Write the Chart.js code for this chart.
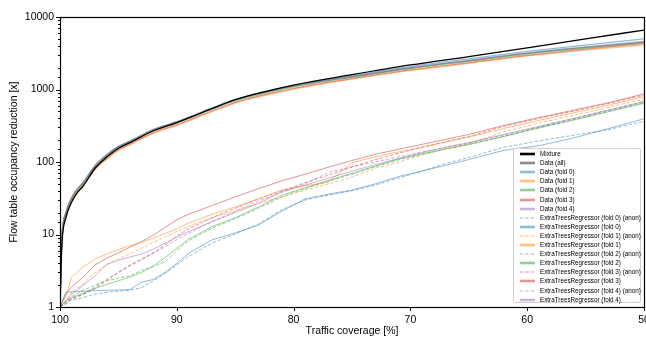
<!DOCTYPE html>
<html>
<head>
<meta charset="utf-8">
<script src="https://cdn.jsdelivr.net/npm/chart.js@4.4.1/dist/chart.umd.min.js"></script>
<style>
  html, body { margin: 0; padding: 0; background: #fff; overflow: hidden; }
  #wrap { position: relative; width: 646px; height: 337px; }
  #legend {
    position: absolute; box-sizing: border-box; background: rgba(255,255,255,0.85);
    border: 1px solid #d0d0d0; border-radius: 2px;
    font-family: 'Liberation Sans', Arial, sans-serif; font-size: 6.3px; color: #000;
  }
  #legend .row { position: absolute; left: 6px; height: 8px; line-height: 8px; white-space: nowrap; }
  #legend svg { position: absolute; left: 0; top: 2px; }
  #legend span { position: absolute; left: 20px; top: 0; }
</style>
</head>
<body>
<div id="wrap">
  <canvas id="chart"></canvas>
  <div id="legend"></div>
</div>
<script>
// coverage grids (x values, %)
const upperCoverage = [100, 99.9, 99.8, 99.5, 99, 98.5, 98, 97, 96, 95, 94, 92, 90, 87, 85, 80, 75, 70, 65, 60, 55, 50];
const lowerCoverage = [100, 99.5, 99, 98, 97, 96, 95, 94, 93, 92, 91, 90, 89, 87, 85, 83, 81, 79, 77, 75, 73, 71, 69, 67, 65, 62, 59, 56, 53, 50];

// upper bundle
const mixture   = [1, 4, 9, 17, 28, 38, 47, 82, 117, 155, 185, 270, 350, 545, 725, 1150, 1600, 2180, 2850, 3760, 5000, 6600];
const dataAll   = [1, 5, 11, 20, 32, 42, 52, 88, 124, 162, 192, 278, 355, 545, 715, 1110, 1500, 1980, 2500, 3150, 3800, 4500];
const dataFold0 = [1, 5.5, 11.5, 20, 32, 43, 53, 89, 126, 164, 195, 282, 360, 555, 730, 1140, 1560, 2070, 2650, 3350, 4100, 5000];
const dataFold1 = [1, 4.5, 10, 18, 29, 38, 47, 79, 110, 146, 173, 250, 320, 495, 650, 1010, 1390, 1830, 2300, 2900, 3500, 4100];
const dataFold2 = [1, 5, 10.5, 19, 31, 41, 51, 86, 121, 158, 187, 270, 346, 530, 695, 1080, 1470, 1940, 2450, 3080, 3720, 4400];
const dataFold3 = [1, 4.5, 10, 18, 29, 39, 48, 80, 112, 148, 176, 255, 327, 505, 665, 1030, 1410, 1860, 2350, 2960, 3600, 4300];
const dataFold4 = [1, 5, 11, 20, 32, 42, 52, 88, 125, 163, 193, 280, 357, 548, 720, 1120, 1520, 2000, 2530, 3200, 3880, 4600];

// ExtraTreesRegressor per fold (anon = dashed)
const etr0Anon = [1, 1.2, 1.25, 1.35, 1.5, 1.6, 1.65, 1.7, 1.85, 2.3, 2.9, 3.8, 5.0, 7.6, 10.2, 14, 22, 30, 35, 40, 48, 60, 75, 95, 115, 160, 195, 235, 280, 365];
const etr0     = [1, 1.6, 1.62, 1.65, 1.68, 1.7, 1.72, 1.74, 2.2, 2.4, 3.0, 4.0, 5.5, 8.4, 10.5, 13.5, 21, 31, 36, 41, 50, 63, 75, 90, 108, 145, 168, 215, 290, 395];
const etr1Anon = [1, 1.2, 1.6, 2.1, 3.0, 3.8, 4.6, 5.4, 6.5, 7.8, 9.2, 11, 13, 17, 21, 27, 33, 41, 50, 62, 82, 100, 125, 150, 180, 260, 345, 440, 570, 740];
const etr1     = [1, 1.4, 2.6, 3.6, 4.6, 5.4, 6.2, 7.0, 7.8, 8.9, 10.3, 12, 14.4, 19, 24, 31, 41, 47, 53, 98, 118, 138, 160, 188, 220, 290, 375, 480, 610, 800];
const etr2Anon = [1, 1.15, 1.4, 1.7, 2.0, 2.3, 2.5, 2.7, 3.2, 3.6, 4.2, 6.0, 8.2, 12.2, 16.5, 23, 33, 43, 54, 68, 86, 107, 128, 150, 174, 226, 298, 385, 505, 660];
const etr2     = [1, 1.2, 1.35, 1.55, 1.8, 2.05, 2.3, 2.6, 3.0, 3.7, 4.8, 6.5, 8.6, 12.8, 17, 24, 35, 44, 56, 70, 88, 110, 130, 152, 175, 225, 295, 380, 495, 645];
const etr3Anon = [1, 1.1, 1.3, 1.5, 1.8, 2.3, 3.0, 3.8, 4.6, 5.6, 7.2, 9.5, 12, 17, 23, 31, 40, 52, 66, 85, 108, 132, 160, 190, 225, 310, 400, 505, 645, 840];
const etr3     = [1, 1.5, 1.9, 2.6, 3.8, 4.7, 5.6, 6.7, 8.0, 9.8, 12.5, 16, 19, 25, 33, 43, 55, 68, 85, 105, 128, 150, 175, 205, 240, 320, 410, 520, 660, 870];
const etr4Anon = [1, 1.1, 1.3, 1.5, 1.9, 2.4, 3.0, 3.7, 4.5, 5.5, 6.8, 8.5, 10.4, 15, 21, 29, 38, 50, 72, 86, 100, 118, 138, 160, 183, 235, 305, 400, 525, 690];
const etr4     = [1, 1.2, 1.5, 2.0, 2.7, 3.9, 4.4, 4.9, 5.4, 6.3, 7.6, 9.2, 11, 15, 20, 27, 39, 48, 60, 75, 92, 112, 135, 160, 185, 240, 310, 400, 520, 680];

const yTickLabels = [1, 10, 100, 1000, 10000];
const xTickLabels = [100, 90, 80, 70, 60, 50];

const BLUE = 'rgba(31,119,180,0.5)';
const ORANGE = 'rgba(255,127,14,0.5)';
const GREEN = 'rgba(44,160,44,0.5)';
const RED = 'rgba(214,39,40,0.5)';
const PURPLE = 'rgba(148,103,189,0.5)';

function pts(xs, ys) {
  return ys.map((v, i) => ({ x: xs[i], y: v }));
}
function line(label, xs, ys, color, width, dashed, legendWidth, smooth) {
  return {
    label: label,
    data: pts(xs, ys),
    borderColor: color,
    backgroundColor: color,
    borderWidth: width,
    borderDash: dashed ? [3.5, 1.8] : [],
    legendWidth: legendWidth,
    pointRadius: 0,
    tension: smooth ? 0.4 : 0,
    cubicInterpolationMode: smooth ? 'monotone' : 'default',
    fill: false
  };
}

const datasets = [
  line('Mixture', upperCoverage, mixture, '#000', 1.3, false, 2.6, true),
  line('Data (all)', upperCoverage, dataAll, '#8a8a8a', 1.3, false, 2.6, true),
  line('Data (fold 0)', upperCoverage, dataFold0, BLUE, 1.3, false, 2.6, true),
  line('Data (fold 1)', upperCoverage, dataFold1, ORANGE, 1.3, false, 2.6, true),
  line('Data (fold 2)', upperCoverage, dataFold2, GREEN, 1.3, false, 2.6, true),
  line('Data (fold 3)', upperCoverage, dataFold3, RED, 1.3, false, 2.6, true),
  line('Data (fold 4)', upperCoverage, dataFold4, PURPLE, 1.3, false, 2.6, true),
  line('ExtraTreesRegressor (fold 0) (anon)', lowerCoverage, etr0Anon, BLUE, 1, true, 1),
  line('ExtraTreesRegressor (fold 0)', lowerCoverage, etr0, BLUE, 1, false, 2.6),
  line('ExtraTreesRegressor (fold 1) (anon)', lowerCoverage, etr1Anon, ORANGE, 1, true, 1),
  line('ExtraTreesRegressor (fold 1)', lowerCoverage, etr1, ORANGE, 1, false, 2.6),
  line('ExtraTreesRegressor (fold 2) (anon)', lowerCoverage, etr2Anon, GREEN, 1, true, 1),
  line('ExtraTreesRegressor (fold 2)', lowerCoverage, etr2, GREEN, 1, false, 2.6),
  line('ExtraTreesRegressor (fold 3) (anon)', lowerCoverage, etr3Anon, RED, 1, true, 1),
  line('ExtraTreesRegressor (fold 3)', lowerCoverage, etr3, RED, 1, false, 2.6),
  line('ExtraTreesRegressor (fold 4) (anon)', lowerCoverage, etr4Anon, PURPLE, 1, true, 1),
  line('ExtraTreesRegressor (fold 4)', lowerCoverage, etr4, PURPLE, 1, false, 2.6)
];

// frame + outward tick marks
const frameTicks = {
  id: 'frameTicks',
  afterDraw(chart) {
    const { ctx, chartArea: a, scales } = chart;
    ctx.save();
    ctx.strokeStyle = '#000';
    ctx.lineWidth = 1;
    ctx.beginPath();
    scales.x.ticks.forEach(t => {
      const px = Math.round(scales.x.getPixelForValue(t.value)) + 0.5;
      ctx.moveTo(px, a.bottom); ctx.lineTo(px, a.bottom + 4);
    });
    scales.y.ticks.forEach(t => {
      const py = Math.round(scales.y.getPixelForValue(t.value)) + 0.5;
      const len = yTickLabels.includes(t.value) ? 4 : 2;
      ctx.moveTo(a.left, py); ctx.lineTo(a.left - len, py);
    });
    ctx.stroke();
    ctx.lineWidth = 1.2;
    ctx.strokeRect(Math.round(a.left) + 0.5, Math.round(a.top) + 0.5,
      Math.round(a.right - a.left), Math.round(a.bottom - a.top));
    ctx.restore();
  }
};

// legend box inside the lower right of the plot
const htmlLegend = {
  id: 'htmlLegend',
  afterUpdate(chart) {
    const box = document.getElementById('legend');
    box.innerHTML = '';
    const a = chart.chartArea;
    box.style.left = (a.right - 131) + 'px';
    box.style.top = (a.bottom - 159) + 'px';
    box.style.width = '128px';
    box.style.height = '155px';
    chart.data.datasets.forEach((ds, i) => {
      const row = document.createElement('div');
      row.className = 'row';
      row.style.top = (1 + i * 9.1) + 'px';
      const dash = ds.borderDash.length ? ' stroke-dasharray="3.5 1.8"' : '';
      row.innerHTML = '<svg width="15" height="4"><line x1="0" y1="2" x2="15" y2="2" stroke="' +
        ds.borderColor + '" stroke-width="' + ds.legendWidth + '"' + dash + '/></svg><span>' + ds.label + '</span>';
      box.appendChild(row);
    });
  }
};

const font = { family: "'Liberation Sans', Arial, sans-serif", size: 10.5 };

new Chart(document.getElementById('chart'), {
  type: 'line',
  data: { datasets: datasets },
  options: {
    responsive: true,
    maintainAspectRatio: false,
    animation: false,
    layout: { padding: { top: 17, right: 2, left: 0, bottom: 0 } },
    plugins: { legend: { display: false }, tooltip: { enabled: false } },
    scales: {
      x: {
        type: 'linear',
        reverse: true,
        min: 50,
        max: 100,
        grid: { display: false, drawTicks: false },
        border: { display: false },
        ticks: {
          color: '#000', font: font, padding: 7, maxRotation: 0, stepSize: 10,
          callback: v => xTickLabels.includes(v) ? String(v) : ''
        },
        title: { display: true, text: 'Traffic coverage [%]', color: '#000', font: font, padding: { top: 0, bottom: 0 } },
        afterFit: s => { s.height = 30; s.paddingLeft = 0; s.paddingRight = 0; }
      },
      y: {
        type: 'logarithmic',
        min: 1,
        max: 10000,
        grid: { display: false, drawTicks: false },
        border: { display: false },
        ticks: {
          color: '#000', font: font, padding: 6, autoSkip: false,
          callback: v => yTickLabels.includes(v) ? String(v) : ''
        },
        title: { display: true, text: 'Flow table occupancy reduction [x]', color: '#000', font: font, padding: { top: 8, bottom: 0 } },
        afterFit: s => { s.width = 60; }
      }
    }
  },
  plugins: [frameTicks, htmlLegend]
});
</script>
</body>
</html>
